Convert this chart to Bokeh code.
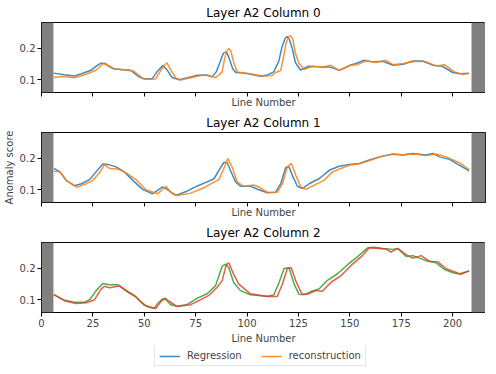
from bokeh.plotting import figure
from bokeh.layouts import column
from bokeh.models import Range1d, FixedTicker, Legend, LegendItem, BoxAnnotation, Title
from bokeh.embed import file_html
from bokeh.resources import INLINE

FONT = "DejaVu Sans"

# ---------------- data ----------------
titles = ["Layer A2 Column 0", "Layer A2 Column 1", "Layer A2 Column 2"]
series_names = ["Regression", "reconstruction"]
x_ticks = [0, 25, 50, 75, 100, 125, 150, 175, 200]
y_ticks = [0.1, 0.2]
x_limits = [0, 216]
y_limits = [0.059, 0.283]
band_left = [0, 5.8]
band_right = [209.2, 216]

# Column 0
c0_reg_x = [6, 11, 16, 19.5, 24, 27, 29, 31, 33, 35, 40, 43.5, 47, 50, 54, 56.5, 59, 61, 63.5, 67, 71, 76, 80, 83, 85, 86.5, 88.5, 90, 91.5, 93, 94.5, 98.5, 103, 106.5, 110, 113, 115.5, 117, 118.5, 119.5, 120.5, 122, 123.5, 126, 130, 135, 140, 145, 150, 153, 157, 161, 166, 171, 176, 180.5, 185.5, 190.5, 195, 200, 203.5, 208]
c0_reg_y = [0.121, 0.116, 0.112, 0.119, 0.130, 0.145, 0.153, 0.152, 0.142, 0.135, 0.132, 0.130, 0.111, 0.102, 0.104, 0.128, 0.145, 0.132, 0.107, 0.100, 0.106, 0.114, 0.115, 0.109, 0.125, 0.150, 0.185, 0.189, 0.165, 0.135, 0.123, 0.121, 0.116, 0.111, 0.115, 0.125, 0.160, 0.205, 0.232, 0.238, 0.230, 0.200, 0.155, 0.131, 0.143, 0.141, 0.141, 0.130, 0.146, 0.152, 0.162, 0.157, 0.159, 0.146, 0.149, 0.160, 0.160, 0.146, 0.143, 0.123, 0.119, 0.121]
c0_rec_x = [6, 11, 16, 21, 26.5, 28.5, 30, 33, 35.5, 40, 45, 49, 52, 55.5, 58, 60, 61, 63, 65.3, 67.7, 72.6, 77.4, 80.6, 84.7, 87.9, 89, 90.2, 91.1, 92.2, 93.5, 95.2, 100, 104, 108, 112, 114, 116.4, 117.8, 119, 120.3, 121.3, 122.3, 123.5, 125.3, 127.8, 131.8, 136.7, 140.7, 144.8, 150.5, 153.8, 157.8, 162.7, 167.6, 170.9, 175.7, 182.2, 187.1, 192, 196, 200.9, 205, 208]
c0_rec_y = [0.108, 0.110, 0.106, 0.116, 0.130, 0.142, 0.152, 0.144, 0.134, 0.132, 0.127, 0.105, 0.101, 0.102, 0.130, 0.148, 0.154, 0.130, 0.106, 0.099, 0.106, 0.113, 0.115, 0.106, 0.125, 0.165, 0.193, 0.200, 0.190, 0.155, 0.125, 0.121, 0.116, 0.111, 0.113, 0.123, 0.130, 0.175, 0.218, 0.238, 0.241, 0.228, 0.185, 0.152, 0.133, 0.143, 0.141, 0.146, 0.130, 0.146, 0.148, 0.160, 0.155, 0.162, 0.148, 0.152, 0.159, 0.157, 0.144, 0.148, 0.125, 0.117, 0.119]

# Column 1
c1_reg_x = [6, 9, 12, 16, 19.5, 23.5, 26.5, 29.8, 32.3, 36.3, 40.3, 45.2, 49.2, 54, 56.5, 58.9, 61.3, 64.5, 66, 71, 75.8, 80.6, 83.9, 86.3, 88.7, 90.3, 91.9, 94.4, 96.8, 101.6, 104.8, 109.8, 113.9, 116.4, 118.8, 120.4, 122, 124.5, 127, 130.2, 135, 140, 144.8, 149.7, 154.6, 159.5, 164.5, 170.9, 175.8, 180.6, 187, 190.4, 193.6, 198.5, 203.4, 208]
c1_reg_y = [0.168, 0.157, 0.130, 0.113, 0.119, 0.133, 0.157, 0.182, 0.181, 0.173, 0.157, 0.125, 0.101, 0.087, 0.098, 0.109, 0.100, 0.084, 0.083, 0.096, 0.112, 0.125, 0.135, 0.162, 0.187, 0.187, 0.162, 0.125, 0.111, 0.111, 0.102, 0.090, 0.092, 0.119, 0.171, 0.173, 0.146, 0.111, 0.104, 0.119, 0.135, 0.162, 0.175, 0.181, 0.184, 0.195, 0.205, 0.214, 0.211, 0.216, 0.211, 0.216, 0.205, 0.197, 0.178, 0.160]
c1_rec_x = [6, 9, 12, 17, 21, 25, 28.2, 30.6, 33.1, 37.1, 41.1, 46, 50.8, 56.5, 58.4, 60.5, 62.9, 66, 72.6, 79, 83, 86.3, 88.7, 90.6, 92.7, 95.2, 98.4, 103.2, 106.5, 110, 114.7, 117.2, 119.6, 121.5, 123.7, 126.1, 128.6, 133.4, 137.5, 141.6, 146.5, 149.7, 154.6, 159.5, 166, 170.9, 175.8, 181.4, 187, 192, 196.9, 203.4, 208]
c1_rec_y = [0.159, 0.157, 0.130, 0.108, 0.117, 0.130, 0.154, 0.180, 0.168, 0.166, 0.154, 0.132, 0.100, 0.087, 0.098, 0.111, 0.092, 0.081, 0.089, 0.106, 0.121, 0.132, 0.168, 0.200, 0.173, 0.125, 0.111, 0.115, 0.106, 0.091, 0.092, 0.119, 0.173, 0.184, 0.146, 0.109, 0.101, 0.117, 0.130, 0.157, 0.170, 0.178, 0.183, 0.193, 0.208, 0.213, 0.212, 0.214, 0.209, 0.214, 0.205, 0.186, 0.164]

# Column 2
c2_reg_x = [6, 11.3, 16.1, 21, 23.4, 26.6, 29.8, 33.1, 37.1, 40.3, 45.2, 48.4, 51.6, 54.8, 56.5, 58.9, 60.5, 62.9, 66, 71, 75.8, 80.6, 84.7, 86.5, 87.9, 89.5, 91.1, 93.5, 96.8, 101.6, 109.7, 113, 115.6, 118, 120.4, 122.9, 125.3, 127.8, 131, 135, 139.1, 144, 148.9, 153.8, 158.7, 161.9, 166, 170.9, 173.3, 177.4, 180.6, 183.9, 188, 192, 196, 200.1, 204.2, 208]
c2_reg_y = [0.116, 0.098, 0.092, 0.092, 0.100, 0.129, 0.152, 0.148, 0.148, 0.134, 0.114, 0.093, 0.077, 0.072, 0.088, 0.103, 0.100, 0.084, 0.079, 0.085, 0.105, 0.119, 0.145, 0.180, 0.207, 0.214, 0.202, 0.155, 0.129, 0.116, 0.111, 0.115, 0.155, 0.200, 0.202, 0.150, 0.117, 0.116, 0.126, 0.134, 0.162, 0.183, 0.212, 0.238, 0.266, 0.268, 0.264, 0.261, 0.264, 0.238, 0.241, 0.233, 0.223, 0.218, 0.197, 0.186, 0.181, 0.192]
c2_rec_x = [6, 11.3, 16.9, 21.8, 25.8, 29, 30.6, 33.1, 37.9, 41.9, 46, 50, 55.6, 58, 60.1, 62.1, 66, 72.6, 77.4, 81.5, 85.5, 87.9, 89.9, 91.1, 93.5, 96, 101.6, 109.7, 114.7, 117.2, 119.6, 121.5, 123.7, 126.6, 129.4, 133.4, 136.7, 140.7, 145.6, 151.3, 156.2, 159.5, 164.4, 167.6, 170, 173.3, 177.4, 180.6, 184.7, 188.8, 192.8, 196.9, 203.4, 208]
c2_rec_y = [0.116, 0.096, 0.088, 0.090, 0.100, 0.134, 0.143, 0.138, 0.144, 0.124, 0.108, 0.082, 0.072, 0.093, 0.105, 0.095, 0.078, 0.084, 0.100, 0.114, 0.140, 0.161, 0.212, 0.218, 0.181, 0.150, 0.119, 0.110, 0.110, 0.150, 0.200, 0.202, 0.160, 0.119, 0.117, 0.129, 0.127, 0.155, 0.176, 0.214, 0.241, 0.266, 0.264, 0.262, 0.252, 0.264, 0.244, 0.233, 0.241, 0.223, 0.221, 0.199, 0.183, 0.192]

BLUE, ORANGE, GREEN, RED = "#1f77b4", "#ff7f0e", "#2ca02c", "#e0402a"

panels = [
    (c0_reg_x, c0_reg_y, c0_rec_x, c0_rec_y, BLUE, ORANGE),
    (c1_reg_x, c1_reg_y, c1_rec_x, c1_rec_y, BLUE, ORANGE),
    (c2_reg_x, c2_reg_y, c2_rec_x, c2_rec_y, GREEN, RED),
]

figs = []
for i, (xa, ya, xb, yb, ca, cb) in enumerate(panels):
    last = i == 2
    t = Title(text=titles[i], text_font=FONT, text_font_size="12px",
              text_font_style="normal", align="center", text_color="black",
              standoff=6)
    p = figure(title=t, frame_width=444, frame_height=70, output_backend="svg",
               toolbar_location=None,
               x_range=Range1d(*x_limits), y_range=Range1d(*y_limits),
               min_border_left=40, min_border_right=1, min_border_top=0,
               min_border_bottom=0)
    p.grid.visible = False
    p.outline_line_color = "black"
    p.outline_line_alpha = 1
    p.outline_line_width = 1
    p.background_fill_color = "white"

    p.add_layout(BoxAnnotation(left=band_left[0], right=band_left[1], fill_color="gray",
                               fill_alpha=1, line_color=None))
    p.add_layout(BoxAnnotation(left=band_right[0], right=band_right[1], fill_color="gray",
                               fill_alpha=1, line_color=None))

    p.line(xa, ya, line_color=ca, line_width=1.5, line_alpha=0.85)
    p.line(xb, yb, line_color=cb, line_width=1.5, line_alpha=0.85)

    xa_ = p.xaxis[0]
    if last:
        xa_.ticker = FixedTicker(ticks=x_ticks)
        xa_.major_tick_out = 4
        xa_.major_label_standoff = 2
        xa_.axis_label_standoff = 3
    else:
        # ticks without labels on the upper panels
        xa_.ticker = FixedTicker(ticks=[], minor_ticks=x_ticks)
        xa_.major_tick_out = 0
        xa_.major_label_standoff = 0
        xa_.axis_label_standoff = 0
    xa_.minor_tick_out = 0 if last else 4
    xa_.minor_tick_in = 0
    xa_.major_tick_in = 0
    xa_.axis_label = "Line Number"
    xa_.axis_label_text_font = FONT
    xa_.axis_label_text_font_size = "10px"
    xa_.axis_label_text_font_style = "normal"
    xa_.major_label_text_font = FONT
    xa_.major_label_text_font_size = "10px"
    xa_.axis_line_color = "black"

    ya_ = p.yaxis[0]
    ya_.ticker = FixedTicker(ticks=y_ticks)
    if i == 1:
        ya_.axis_label = "Anomaly score"
        ya_.axis_label_text_font = FONT
        ya_.axis_label_text_font_size = "10px"
        ya_.axis_label_text_font_style = "normal"
        ya_.axis_label_standoff = 2
    ya_.major_label_text_font = FONT
    ya_.major_label_text_font_size = "10px"
    ya_.major_label_standoff = 2
    ya_.major_tick_out = 4
    ya_.major_tick_in = 0
    ya_.minor_tick_out = 0
    ya_.minor_tick_in = 0
    ya_.axis_line_color = "black"
    figs.append(p)

# legend strip below the last panel (handles use the first panel's series/colors;
# the strip's y range keeps the handle lines themselves out of view)
pl = figure(frame_width=444, frame_height=24, output_backend="svg", toolbar_location=None,
            x_range=Range1d(*x_limits), y_range=Range1d(10, 11),
            x_axis_location=None, y_axis_location=None,
            min_border_left=40, min_border_right=1, min_border_top=0, min_border_bottom=0)
pl.grid.visible = False
pl.outline_line_color = None
h1 = pl.line(c0_reg_x, c0_reg_y, line_color=BLUE, line_width=1.5, line_alpha=0.85)
h2 = pl.line(c0_rec_x, c0_rec_y, line_color=ORANGE, line_width=1.5, line_alpha=0.85)
legend = Legend(items=[LegendItem(label=series_names[0], renderers=[h1]),
                       LegendItem(label=series_names[1], renderers=[h2])],
                orientation="horizontal", location=(113, 4),
                label_text_font=FONT, label_text_font_size="10px",
                glyph_width=21, glyph_height=10, label_standoff=7, spacing=19,
                padding=4, margin=0, border_line_color="#cccccc",
                background_fill_alpha=1)
pl.add_layout(legend, "center")
figs.append(pl)

layout = column(*figs, spacing=0)
open("out.html", "w").write(file_html(layout, INLINE))
